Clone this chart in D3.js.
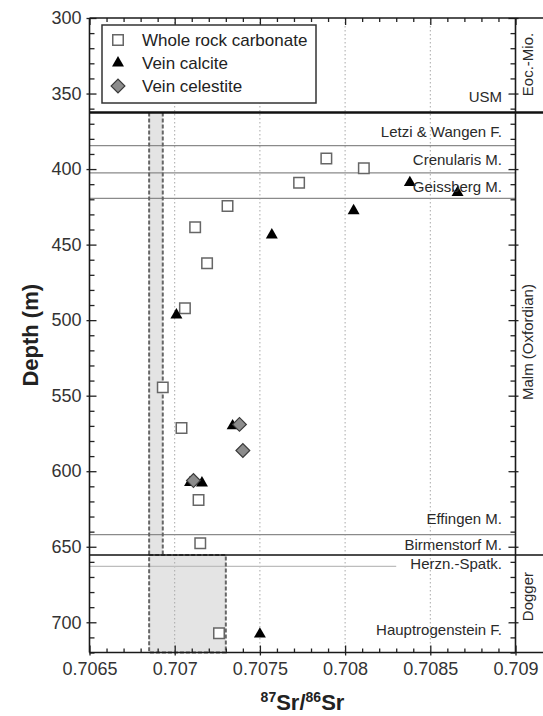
<!DOCTYPE html>
<html>
<head>
<meta charset="utf-8">
<script src="https://cdn.jsdelivr.net/npm/d3@7"></script>
<style>
  body { margin: 0; background: #fff; }
  svg { display: block; font-family: "Liberation Sans", Arial, sans-serif; }
</style>
</head>
<body>
<div id="chart"></div>
<script>
// Sr isotope data
var wholeRockSr    = [0.70789, 0.70811, 0.70773, 0.70731, 0.70712, 0.70719, 0.70706, 0.70693, 0.70704, 0.70714, 0.70715, 0.70726];
var wholeRockDepth = [393, 399.5, 409, 424.4, 438.5, 462.4, 492.2, 544.5, 571.4, 619, 647.7, 707.3];

var calciteSr    = [0.70838, 0.70866, 0.70805, 0.70757, 0.70701, 0.70734, 0.70709, 0.70716, 0.7075];
var calciteDepth = [409, 415.6, 427.6, 443.6, 496.6, 570, 607.5, 607.8, 707.8];

var celestiteSr    = [0.70738, 0.7074, 0.70711];
var celestiteDepth = [569, 586.3, 606.2];

var xTicks = [0.7065, 0.707, 0.7075, 0.708, 0.7085, 0.709];
var xTickLabels = ["0.7065", "0.707", "0.7075", "0.708", "0.7085", "0.709"];
var yTicks = [300, 350, 400, 450, 500, 550, 600, 650, 700];
var gridSr = [0.707, 0.7075, 0.708, 0.7085];

// stratigraphic boundaries (depth, m)
var unitLines = [384.5, 402.5, 419.4, 642];
var periodLines = [362.6, 655.5];
var herznLine = [663, 0.7083];   // depth, end of line in Sr

var formationNames  = ["USM", "Letzi & Wangen F.", "Crenularis M.", "Geissberg M.",
                       "Effingen M.", "Birmenstorf M.", "Herzn.-Spatk.", "Hauptrogenstein F."];
var formationDepths = [352.3, 375.5, 394, 411.9, 631.6, 648.8, 661.5, 705.1];

var periodNames  = ["Eoc.-Mio.", "Malm (Oxfordian)", "Dogger"];
var periodDepths = [330.8, 514.5, 683];

// seawater reference ranges
var bandSr = [0.70685, 0.70693];
var bandDepth = [362.6, 655.5];
var boxSr = [0.70685, 0.7073];
var boxDepth = [655.5, 720];

var legendNames = ["Whole rock carbonate", "Vein calcite", "Vein celestite"];

var w = 543, h = 716;
var svg = d3.select("#chart").append("svg")
  .attr("width", w)
  .attr("height", h);

var x = d3.scaleLinear().domain([0.7065, 0.709]).range([89.5, 515.5]);
var y = d3.scaleLinear().domain([300, 720]).range([18, 652.5]);

var plotLeft = x.range()[0], plotRight = x.range()[1];
var plotTop = y.range()[0], plotBottom = y.range()[1];

// shaded ranges
svg.append("rect")
  .attr("x", x(boxSr[0]))
  .attr("y", y(boxDepth[0]))
  .attr("width", x(boxSr[1]) - x(boxSr[0]))
  .attr("height", y(boxDepth[1]) - y(boxDepth[0]))
  .attr("fill", "#e4e4e4");
svg.append("rect")
  .attr("x", x(bandSr[0]))
  .attr("y", y(bandDepth[0]))
  .attr("width", x(bandSr[1]) - x(bandSr[0]))
  .attr("height", y(bandDepth[1]) - y(bandDepth[0]))
  .attr("fill", "#e4e4e4");

// dotted grid
svg.selectAll(".grid")
  .data(gridSr)
  .enter()
  .append("line")
  .attr("x1", function(d) { return x(d); })
  .attr("x2", function(d) { return x(d); })
  .attr("y1", plotTop)
  .attr("y2", plotBottom)
  .attr("stroke", "#a8a8a8")
  .attr("stroke-width", 1)
  .attr("stroke-dasharray", "1.5,2.5");

// unit boundaries
svg.selectAll(".unit")
  .data(unitLines)
  .enter()
  .append("line")
  .attr("x1", plotLeft)
  .attr("x2", plotRight)
  .attr("y1", function(d) { return y(d); })
  .attr("y2", function(d) { return y(d); })
  .attr("stroke", "#8a8a8a")
  .attr("stroke-width", 1.4);

svg.append("line")
  .attr("x1", plotLeft)
  .attr("x2", x(herznLine[1]))
  .attr("y1", y(herznLine[0]))
  .attr("y2", y(herznLine[0]))
  .attr("stroke", "#bdbdbd")
  .attr("stroke-width", 1.4);

// dashed borders of the ranges
var dashStyle = function(sel) {
  sel.attr("fill", "none")
    .attr("stroke", "#666")
    .attr("stroke-width", 2)
    .attr("stroke-dasharray", "4,2");
};
svg.append("rect")
  .attr("x", x(boxSr[0]))
  .attr("y", y(boxDepth[0]))
  .attr("width", x(boxSr[1]) - x(boxSr[0]))
  .attr("height", y(boxDepth[1]) - y(boxDepth[0]))
  .call(dashStyle);
svg.selectAll(".bandEdge")
  .data(bandSr)
  .enter()
  .append("line")
  .attr("x1", function(d) { return x(d); })
  .attr("x2", function(d) { return x(d); })
  .attr("y1", y(bandDepth[0]))
  .attr("y2", y(bandDepth[1]))
  .call(dashStyle);

// period boundaries (run through the side column)
svg.selectAll(".period")
  .data(periodLines)
  .enter()
  .append("line")
  .attr("x1", plotLeft)
  .attr("x2", w + 2)
  .attr("y1", function(d) { return y(d); })
  .attr("y2", function(d) { return y(d); })
  .attr("stroke", "#111")
  .attr("stroke-width", function(d, i) { return i == 0 ? 2.6 : 1.6; });

// markers
var squareSym = d3.symbol().type(d3.symbolSquare).size(110);
var triSym = d3.symbol().type(d3.symbolTriangle).size(62);
var diaSym = d3.symbol().type(d3.symbolSquare).size(95);

var drawSquares = function(g, sr, depth) {
  g.selectAll(".sq")
    .data(sr)
    .enter()
    .append("path")
    .attr("d", squareSym)
    .attr("transform", function(d, i) { return "translate(" + x(d) + "," + y(depth[i]) + ")"; })
    .attr("fill", "#fff")
    .attr("stroke", "#666")
    .attr("stroke-width", 1.5);
};
var drawTriangles = function(g, sr, depth) {
  g.selectAll(".tri")
    .data(sr)
    .enter()
    .append("path")
    .attr("d", triSym)
    .attr("transform", function(d, i) { return "translate(" + x(d) + "," + y(depth[i]) + ")"; })
    .attr("fill", "#000");
};
var drawDiamonds = function(g, sr, depth) {
  g.selectAll(".dia")
    .data(sr)
    .enter()
    .append("path")
    .attr("d", diaSym)
    .attr("transform", function(d, i) { return "translate(" + x(d) + "," + y(depth[i]) + ") rotate(45)"; })
    .attr("fill", "#8c8c8c")
    .attr("stroke", "#3a3a3a")
    .attr("stroke-width", 1.2);
};

var points = svg.append("g");
drawSquares(points.append("g"), wholeRockSr, wholeRockDepth);
drawTriangles(points.append("g"), calciteSr, calciteDepth);
drawDiamonds(points.append("g"), celestiteSr, celestiteDepth);

// axes
var minorY = y.ticks(42).filter(function(d) { return yTicks.indexOf(d) < 0; });
var minorX = x.ticks(25).filter(function(d) {
  return !xTicks.some(function(t) { return Math.abs(t - d) < 1e-9; });
});

var axisText = function(g) {
  g.select(".domain").remove();
  g.selectAll("line").attr("stroke", "#222").attr("stroke-width", 1.3);
  g.selectAll("text")
    .attr("fill", "#333")
    .attr("font-size", "18px")
    .attr("font-family", '"Liberation Sans", Arial, sans-serif');
};

svg.append("g")
  .attr("transform", "translate(" + plotLeft + ",0)")
  .call(d3.axisLeft(y).tickValues(yTicks).tickSizeInner(-7).tickSizeOuter(0).tickPadding(8))
  .call(axisText)
  .selectAll("line").attr("x1", -3);
svg.append("g")
  .attr("transform", "translate(" + plotLeft + ",0)")
  .call(d3.axisLeft(y).tickValues(minorY).tickSize(-5).tickFormat(""))
  .call(axisText);

svg.append("g")
  .attr("transform", "translate(" + plotRight + ",0)")
  .call(d3.axisRight(y).tickValues(yTicks).tickSize(-7).tickFormat(""))
  .call(axisText)
  .selectAll("line").attr("x1", 3);
svg.append("g")
  .attr("transform", "translate(" + plotRight + ",0)")
  .call(d3.axisRight(y).tickValues(minorY).tickSize(-5).tickFormat(""))
  .call(axisText);

var xb = svg.append("g")
  .attr("transform", "translate(0," + plotBottom + ")")
  .call(d3.axisBottom(x).tickValues(xTicks).tickSizeInner(-7).tickSizeOuter(0).tickPadding(10)
    .tickFormat(function(d, i) { return xTickLabels[i]; }))
  .call(axisText);
xb.selectAll("line").attr("y1", 3);
svg.append("g")
  .attr("transform", "translate(0," + plotBottom + ")")
  .call(d3.axisBottom(x).tickValues(minorX).tickSize(-4).tickFormat(""))
  .call(axisText);

svg.append("g")
  .attr("transform", "translate(0," + plotTop + ")")
  .call(d3.axisTop(x).tickValues(xTicks).tickSize(-7).tickFormat(""))
  .call(axisText);
svg.append("g")
  .attr("transform", "translate(0," + plotTop + ")")
  .call(d3.axisTop(x).tickValues(minorX).tickSize(-4).tickFormat(""))
  .call(axisText);

// frame
[[plotLeft, plotTop, w + 2, plotTop], [plotLeft, plotBottom, w + 2, plotBottom],
 [plotLeft, plotTop, plotLeft, plotBottom], [plotRight, plotTop, plotRight, plotBottom]].forEach(function(s) {
  svg.append("line")
    .attr("x1", s[0]).attr("y1", s[1])
    .attr("x2", s[2]).attr("y2", s[3])
    .attr("stroke", "#1a1a1a")
    .attr("stroke-width", 1.6);
});

// formation labels
svg.selectAll(".fm")
  .data(formationNames)
  .enter()
  .append("text")
  .attr("x", 502)
  .attr("y", function(d, i) { return y(formationDepths[i]); })
  .attr("dy", "0.35em")
  .attr("text-anchor", "end")
  .attr("font-size", "15px")
  .attr("fill", "#2a2a2a")
  .text(function(d) { return d; });

// period labels in the side column
svg.selectAll(".per")
  .data(periodNames)
  .enter()
  .append("text")
  .attr("transform", function(d, i) { return "translate(533," + y(periodDepths[i]) + ") rotate(-90)"; })
  .attr("text-anchor", "middle")
  .attr("font-size", "15px")
  .attr("fill", "#2a2a2a")
  .text(function(d) { return d; });

// axis titles
svg.append("text")
  .attr("transform", "translate(38," + ((plotTop + plotBottom) / 2) + ") rotate(-90)")
  .attr("text-anchor", "middle")
  .attr("font-size", "22px")
  .attr("font-weight", "bold")
  .attr("fill", "#222")
  .text("Depth (m)");

var xt = svg.append("text")
  .attr("x", (plotLeft + plotRight) / 2)
  .attr("y", 710)
  .attr("text-anchor", "middle")
  .attr("font-weight", "bold")
  .attr("fill", "#222");
xt.append("tspan").attr("font-size", "14px").attr("dy", -8).text("87");
xt.append("tspan").attr("font-size", "22px").attr("dy", 8).text("Sr/");
xt.append("tspan").attr("font-size", "14px").attr("dy", -8).text("86");
xt.append("tspan").attr("font-size", "22px").attr("dy", 8).text("Sr");

// legend
var legend = svg.append("g");
legend.append("rect")
  .attr("x", 102).attr("y", 25)
  .attr("width", 214).attr("height", 78)
  .attr("fill", "#fff")
  .attr("stroke", "#333")
  .attr("stroke-width", 1.5);

var legendY = [40, 63, 86];
legend.append("path").attr("d", squareSym)
  .attr("transform", "translate(118," + legendY[0] + ")")
  .attr("fill", "#fff").attr("stroke", "#666").attr("stroke-width", 1.5);
legend.append("path").attr("d", triSym)
  .attr("transform", "translate(118," + legendY[1] + ")")
  .attr("fill", "#000");
legend.append("path").attr("d", diaSym)
  .attr("transform", "translate(118," + legendY[2] + ") rotate(45)")
  .attr("fill", "#8c8c8c").attr("stroke", "#3a3a3a").attr("stroke-width", 1.2);

legend.selectAll(".lt")
  .data(legendNames)
  .enter()
  .append("text")
  .attr("x", 142)
  .attr("y", function(d, i) { return legendY[i]; })
  .attr("dy", "0.36em")
  .attr("font-size", "17px")
  .attr("fill", "#222")
  .text(function(d) { return d; });
</script>
</body>
</html>
